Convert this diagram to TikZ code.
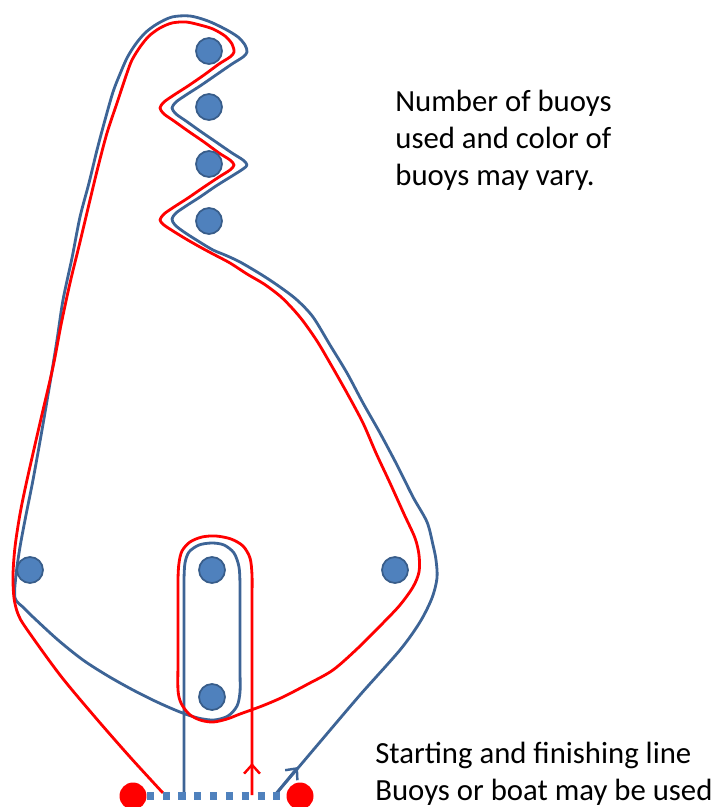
\documentclass[tikz,border=0pt]{standalone}
\usepackage{fontspec}
\setmainfont{Carlito}
\usetikzlibrary{arrows.meta}

\definecolor{courseblue}{RGB}{61,100,150}
\definecolor{buoyfill}{RGB}{79,129,189}
\definecolor{buoyedge}{RGB}{56,93,138}
\definecolor{courseline}{RGB}{79,129,189}

\tikzset{
	buoy/.style={circle, fill=buoyfill, draw=buoyedge, line width=1pt, inner sep=0pt, minimum size=0.52cm},
	markbuoy/.style={circle, fill=red, inner sep=0pt, minimum size=0.54cm},
	bluerun/.style={draw=courseblue, line width=1.6pt, line join=round},
	redrun/.style={draw=red, line width=1.6pt, line join=round},
	tip/.style={-{Straight Barb[length=5pt,width=9pt,line width=1.4pt]}},
	note/.style={font=\fontsize{17.5}{21}\selectfont, align=left, anchor=north west, inner sep=0pt}
}

\begin{document}
\begin{tikzpicture}[x=0.02cm, y=-0.02cm]
	\useasboundingbox (0,0) rectangle (715,807);
	% blue course
	\path[bluerun] plot[smooth, tension=0.5] coordinates {
		(275,795) (298,768) (320,742) (360,695) (400,650) (420,622) (432,598)
		(437,578) (436,560) (433,545) (427,522) (413,497) (397,465) (380,433)
		(363,403) (347,373) (330,345) (313,317) (297,300) (280,287) (262,275)
		(240,262) (225,255) (213,250)
		(198,241) (184,232) (175,225) (172,219) (176,213) (186,206) (200,197)
		(216,186) (232,176) (243,169) (247,165) (243,160) (232,153) (216,142)
		(200,131) (186,121) (176,114) (172,108) (176,102) (186,95) (200,86)
		(216,75) (232,64) (243,57) (247,52) (245,45) (238,37) (225,29) (208,21)
		(190,16) (172,17) (157,24) (145,33) (135,45) (127,58) (120,74) (113,92)
		(105,120) (97,150) (89,183) (80,217) (72,258) (63,300) (57,340) (50,383)
		(42,430) (33,480) (26,515) (20,547) (16,575) (15,598)
		(24,608) (33,617) (58,640) (83,660) (108,676) (133,690) (157,702)
		(180,712) (198,718) (214,720) (228,716) (237,706) (240,692) (240,670)
		(240,640) (240,610) (240,585) (239,567) (234,553) (224,545) (212,543)
		(199,545) (189,552) (185,563) (184,580) (184,610) (184,650) (184,700)
		(184,750) (184,795)};
	% red course
	\path[redrun] plot[smooth, tension=0.5] coordinates {
		(252,795) (252,760) (252,720) (252,680) (252,640) (252,600) (252,575)
		(250,558) (243,546) (231,539) (216,536) (202,537) (190,542) (182,551)
		(179,563) (178,580) (178,620) (178,660) (178,690) (181,703) (189,714)
		(200,720) (213,722) (227,719) (240,714) (262,706) (283,697) (308,684)
		(333,670) (358,648) (383,623) (400,605) (413,587) (419,572) (419,555)
		(415,538) (404,514) (390,483) (376,453) (363,423) (347,393) (330,363)
		(317,341) (303,321) (292,308) (280,296) (264,284) (247,274) (230,263)
		(213,254)
		(200,247) (186,239) (173,231) (164,225) (160,220) (164,214) (174,207)
		(188,198) (204,187) (219,177) (230,170) (234,165) (230,160) (219,153)
		(204,142) (188,131) (174,121) (164,114) (160,108) (164,102) (174,95)
		(188,86) (204,75) (219,64) (230,57) (234,52) (232,44) (225,36) (213,29)
		(200,25) (186,22) (172,23) (160,28) (149,36) (140,47) (132,60) (127,73)
		(117,103) (107,133) (98,167) (90,200) (80,242) (70,283) (61,325)
		(53,367) (40,423) (27,480) (20,514) (15,547) (13,575) (14,598) (18,614)
		(26,628) (60,675) (95,717) (130,757) (163,793)};
	% direction tips
	\draw[redrun, tip] (252,795) -- (252,763);
	\draw[bluerun, tip] (275,795) -- (298,767);
	% start and finish line
	\node[markbuoy] (s1) at (133,796) {};
	\node[markbuoy] (s2) at (300,796) {};
	\draw[courseline, line width=4pt, dash pattern=on 4pt off 5pt] (s1.east) -- (s2.west);
	% course buoys
	\foreach \n/\y in {1/51,2/107,3/164,4/221}
		\node[buoy] (b\n) at (209,\y) {};
	\node[buoy] (left) at (30,570) {};
	\node[buoy] (midtop) at (212,570) {};
	\node[buoy] (midbot) at (212,697) {};
	\node[buoy] (right) at (395,570) {};
	% notes
	\node[note] (vary) at (395,90) {Number of buoys\\used and color of\\buoys may vary.};
	\node[note] (line) at (375,742) {Starting and finishing line\\Buoys or boat may be used};
\end{tikzpicture}
\end{document}
